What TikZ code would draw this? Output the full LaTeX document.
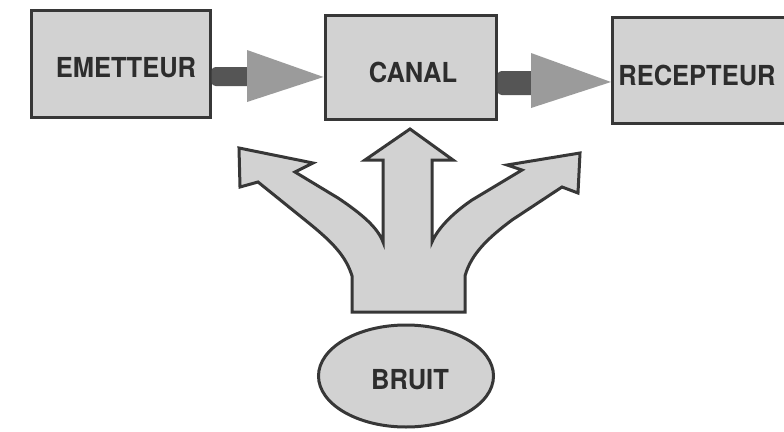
\documentclass[tikz,border=0pt]{standalone}
\usepackage{fontspec}
\setmainfont{TeX Gyre Heros}
\usetikzlibrary{shapes.geometric}
\definecolor{boxfill}{RGB}{210,210,210}
\definecolor{edgec}{RGB}{55,55,55}
\definecolor{inkc}{RGB}{45,45,45}
\definecolor{stubc}{RGB}{85,85,85}
\definecolor{tric}{RGB}{155,155,155}
\tikzset{
  box/.style={draw=edgec, line width=3pt, fill=boxfill, inner sep=0pt},
  lab/.style={text=inkc, font=\bfseries\fontsize{25.5}{30}\selectfont, inner sep=0pt, yscale=1.08},
  stubbar/.style={fill=stubc, rounded corners=4pt},
  headtri/.style={fill=tric},
  noise/.style={draw=edgec, line width=3pt, fill=boxfill, line join=miter}
}
\begin{document}
\begin{tikzpicture}[x=1pt,y=-1pt]
\useasboundingbox (0,0) rectangle (784,431);
\clip (0,0) rectangle (784,431);
\fill[white] (0,0) rectangle (784,431);

% the three stages of the chain
\node[box, minimum width=179pt, minimum height=107pt] (emetteur) at (120.5,63.5) {};
\node[lab] (temetteur) at (126,68) {EMETTEUR};
\node[box, minimum width=171pt, minimum height=104pt] (canal) at (410.5,67) {};
\node[lab] (tcanal) at (413,72) {CANAL};
\node[box, minimum width=260pt, minimum height=106pt, anchor=west] (recepteur) at (611,70) {};
\node[lab] (trecepteur) at (697,75) {RECEPTEUR};

% block arrows between the stages
\fill[stubbar] (emetteur.east |- 0,67) rectangle (251,86);
\fill[headtri] (247,50) -- (canal.west |- 0,77) -- (247,102) -- cycle;
\fill[stubbar] (canal.east |- 0,71) rectangle (535,95);
\fill[headtri] (531,53) -- (recepteur.west |- 0,82) -- (531,108) -- cycle;

% noise source
\node[draw=edgec, line width=3pt, fill=boxfill, ellipse, minimum width=175pt, minimum height=102pt] (bruit) at (406,376) {};
\node[lab] (tbruit) at (410,380) {BRUIT};

% three-way arrow spreading from the noise source
\draw[noise]
  (352,312) -- (352,276)
  .. controls (346,256) and (332,242) .. (310,224)
  -- (258,182) -- (240,187) -- (239,148) -- (313,163) -- (295,172)
  -- (338,198) .. controls (362,214) and (378,228) .. (383,242)
  -- (383,160) -- (365,160) -- (410,129) -- (453,160) -- (432,160)
  -- (432,242) .. controls (438,228) and (453,213) .. (472,200)
  -- (522,170) -- (507,165) -- (580,153) -- (578,193) -- (562,187)
  -- (512,220) .. controls (488,238) and (471,254) .. (465,276)
  -- (465,312) -- cycle;
\end{tikzpicture}
\end{document}
